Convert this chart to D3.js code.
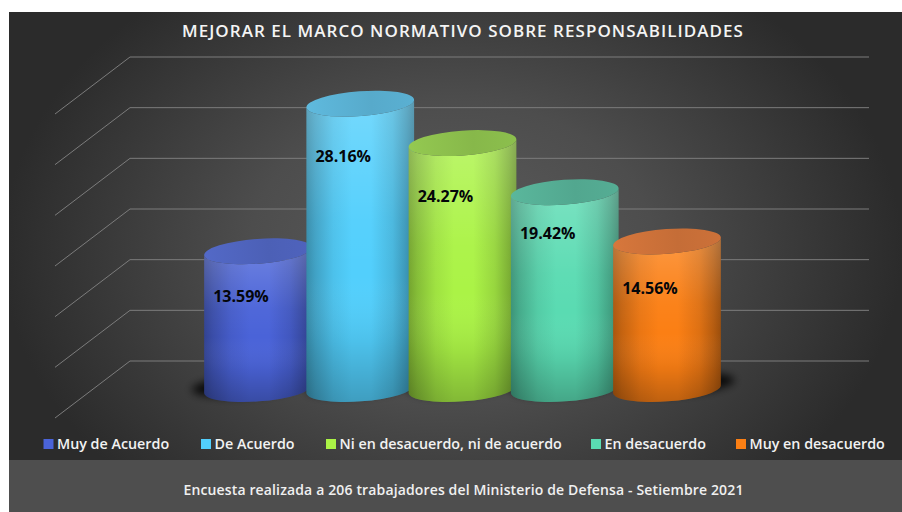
<!DOCTYPE html>
<html><head><meta charset="utf-8">
<script src="https://cdn.jsdelivr.net/npm/d3@7"></script>
<style>html,body{margin:0;padding:0;background:#fff}svg{display:block}text{font-family:"Open Sans",sans-serif}</style>
</head><body><svg id="c" width="902" height="512"></svg>
<script>
const chartTitle = "MEJORAR EL MARCO NORMATIVO SOBRE RESPONSABILIDADES";
const footerText = "Encuesta realizada a 206 trabajadores del Ministerio de Defensa - Setiembre 2021";
const categories = ["Muy de Acuerdo","De Acuerdo","Ni en desacuerdo, ni de acuerdo","En desacuerdo","Muy en desacuerdo"];
const values = [13.59,28.16,24.27,19.42,14.56];
const gridValues = [0,5,10,15,20,25,30];
const bodyColors = ["#4a63d8","#52cffc","#abf346","#5adbb2","#fb7f14"];
const capColors = ["#4c60b6","#57aacb","#87b84a","#52a78f","#c56d37"];
const labelNudge = [45,53,53,41,47];
const legendX = [43.5,201,326,591,736];

const svg = d3.select("#c"), defs = svg.append("defs");
const W=902,H=512,L=9,T=12;
const y = d3.scaleLinear().domain([0,30]).range([361,57]);
const x = d3.scalePoint().domain(categories).range([258,667]);
const rx=54, ry=12.4, tilt=-4.2, rad=tilt*Math.PI/180;
const depth=28, sideDy=57;
const cosR=rx*Math.cos(rad), sinR=rx*Math.sin(rad);

// background
const bg = defs.append("radialGradient").attr("id","bg").attr("gradientUnits","userSpaceOnUse")
 .attr("cx",0).attr("cy",0).attr("r",1)
 .attr("gradientTransform","translate(452,250) scale(450,330)");
[[0,"#5c5c5c"],[0.45,"#4d4d4d"],[1,"#2b2b2b"]].forEach(s=>bg.append("stop").attr("offset",s[0]).attr("stop-color",s[1]));
svg.append("rect").attr("x",L).attr("y",T).attr("width",W-L).attr("height",460-T).attr("fill","url(#bg)");
svg.append("rect").attr("x",L).attr("y",460).attr("width",W-L).attr("height",H-460).attr("fill","#4e4e4e");

// grid
const grid = svg.append("g").attr("fill","none").attr("stroke","#7c7c7c").attr("stroke-width",1);
grid.selectAll("path").data(gridValues).join("path")
 .attr("d",d=>`M55,${y(d)+sideDy}L130,${y(d)}L869,${y(d)}`);

// shadows
const blur = defs.append("filter").attr("id","blur").attr("x","-30%").attr("y","-80%").attr("width","160%").attr("height","260%");
blur.append("feGaussianBlur").attr("stdDeviation",4);
svg.append("g").attr("filter","url(#blur)").selectAll("ellipse").data(categories).join("ellipse")
 .attr("cx",d=>x(d)+(d===categories[4]?14:d===categories[0]?-12:0))
 .attr("cy",y(0)+depth-4).attr("rx",rx).attr("ry",ry-2)
 .attr("transform",d=>`rotate(${tilt} ${x(d)} ${y(0)+depth})`)
 .attr("fill","#000").attr("opacity",.85);

// gradients
const shade = (c,k)=>d3.color(c).darker(k).formatHex();
categories.forEach((c,i)=>{
 const g = defs.append("linearGradient").attr("id","b"+i).attr("x1",0).attr("x2",1).attr("y1",0).attr("y2",0);
 [[0,shade(bodyColors[i],1.1)],[.08,shade(bodyColors[i],.7)],[.25,shade(bodyColors[i],.2)],[.42,bodyColors[i]],[.6,bodyColors[i]],[.8,shade(bodyColors[i],.35)],[.93,shade(bodyColors[i],.9)],[1,shade(bodyColors[i],1.35)]]
  .forEach(s=>g.append("stop").attr("offset",s[0]).attr("stop-color",s[1]));
 const t = defs.append("linearGradient").attr("id","c"+i).attr("x1",0).attr("x2",1).attr("y1",0).attr("y2",0);
 [[0,d3.color(capColors[i]).brighter(.25).formatHex()],[.6,capColors[i]],[1,d3.color(capColors[i]).brighter(.1).formatHex()]]
  .forEach(s=>t.append("stop").attr("offset",s[0]).attr("stop-color",s[1]));
});
const lit = defs.append("linearGradient").attr("id","lit").attr("x1",0).attr("x2",0).attr("y1",0).attr("y2",1);
[[0,"#fff",.2],[.4,"#fff",.03],[.58,"#fff",0],[.8,"#000",.07],[1,"#000",.24]]
 .forEach(s=>lit.append("stop").attr("offset",s[0]).attr("stop-color",s[1]).attr("stop-opacity",s[2]));

const bodyPath = d=>{
 const cx=x(d.c), top=y(d.v)+depth, bot=y(0)+depth;
 return `M${cx-cosR},${top-sinR}A${rx},${ry} ${tilt} 0 0 ${cx+cosR},${top+sinR}`+
  `L${cx+cosR},${bot+sinR}A${rx},${ry} ${tilt} 0 1 ${cx-cosR},${bot-sinR}Z`;
};
const rows = categories.map((c,i)=>({c,v:values[i],i}));
const bars = svg.append("g").selectAll("g").data(rows).join("g");
bars.append("path").attr("d",bodyPath).attr("fill",d=>`url(#b${d.i})`);
bars.append("path").attr("d",bodyPath).attr("fill","url(#lit)");
bars.append("ellipse").attr("cx",d=>x(d.c)).attr("cy",d=>y(d.v)+depth).attr("rx",rx).attr("ry",ry)
 .attr("transform",d=>`rotate(${tilt} ${x(d.c)} ${y(d.v)+depth})`)
 .attr("fill",d=>`url(#c${d.i})`);
bars.append("text").attr("x",d=>x(d.c)-17).attr("y",d=>y(d.v)+depth+labelNudge[d.i]+5.5)
 .attr("text-anchor","middle").attr("font-size",16).attr("font-weight",700).attr("fill","#04060a")
 .text(d=>d.v.toFixed(2)+"%");

// title + footer
svg.append("text").attr("x",463).attr("y",37).attr("text-anchor","middle").attr("font-size",17)
 .attr("font-weight",600).attr("letter-spacing",1.04).attr("fill","#f4f4f4").text(chartTitle);
svg.append("text").attr("x",463.5).attr("y",495).attr("text-anchor","middle").attr("font-size",14)
 .attr("font-weight",600).attr("letter-spacing",.14).attr("fill","#f0f0f0").text(footerText);

// legend
const lg = svg.append("g").selectAll("g").data(categories).join("g")
 .attr("transform",(d,i)=>`translate(${legendX[i]},0)`);
lg.append("rect").attr("y",439).attr("width",10).attr("height",10).attr("fill",(d,i)=>bodyColors[i]);
lg.append("text").attr("x",13.5).attr("y",449).attr("font-size",14.3).attr("font-weight",600).attr("fill","#f2f2f2").text(d=>d);
</script></body></html>
